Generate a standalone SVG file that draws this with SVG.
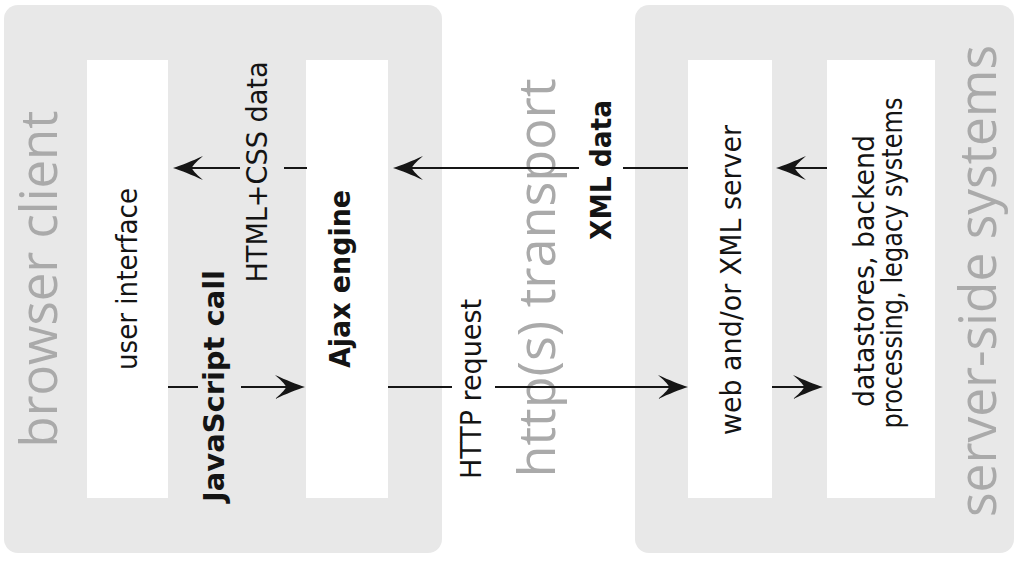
<svg xmlns="http://www.w3.org/2000/svg" width="1017" height="562" viewBox="0 0 1017 562">
<style>
.panel{fill:#e8e8e8}
.box{fill:#ffffff}
.big{font-family:"Open Sans","DejaVu Sans",sans-serif;font-size:51px;font-weight:normal;fill:#aaaaaa;text-anchor:middle}
.lbl{font-family:"DejaVu Sans",sans-serif;font-size:28px;fill:#141414;text-anchor:middle}
.b{font-weight:bold}
.ln{stroke:#161616;stroke-width:2;fill:none}
.arr{marker-end:url(#ah)}
</style>
<defs>
<marker id="ah" markerUnits="userSpaceOnUse" markerWidth="40" markerHeight="30" viewBox="-26 -15 40 30" refX="0" refY="0" orient="auto" overflow="visible">
<path d="M8,0 C0,-2.5 -11,-7 -22,-12 C-14,-5 -11,-1.5 -11,0 C-11,1.5 -14,5 -22,12 C-11,7 0,2.5 8,0 Z" fill="#161616"/>
</marker>
</defs>
<rect width="1017" height="562" fill="#ffffff"/>

<g id="browser-client">
<rect class="panel" x="4" y="5" width="438" height="548" rx="14"/>
<text class="big" transform="translate(57,279) rotate(-90)" textLength="337" lengthAdjust="spacingAndGlyphs">browser client</text>
</g>

<g id="server-side-systems">
<rect class="panel" x="635" y="5" width="379" height="548" rx="14"/>
<text class="big" transform="translate(996,281) rotate(-90)" textLength="472" lengthAdjust="spacingAndGlyphs">server-side systems</text>
</g>

<g id="http-transport">
<text class="big" transform="translate(555,278) rotate(-90)" textLength="399" lengthAdjust="spacingAndGlyphs">http(s) transport</text>
</g>

<g id="user-interface">
<rect class="box" x="87" y="60" width="81" height="438"/>
<text class="lbl" transform="translate(137,279) rotate(-90)" textLength="182" lengthAdjust="spacingAndGlyphs">user interface</text>
</g>

<g id="ajax-engine">
<rect class="box" x="306" y="60" width="82" height="438"/>
<text class="lbl b" transform="translate(350,279) rotate(-90)" textLength="178" lengthAdjust="spacingAndGlyphs">Ajax engine</text>
</g>

<g id="web-server">
<rect class="box" x="688" y="60" width="84" height="438"/>
<text class="lbl" transform="translate(741,280) rotate(-90)" textLength="310" lengthAdjust="spacingAndGlyphs">web and/or XML server</text>
</g>

<g id="datastores">
<rect class="box" x="827" y="60" width="108" height="438"/>
<text class="lbl" transform="translate(874,271) rotate(-90)" textLength="272" lengthAdjust="spacingAndGlyphs">datastores, backend</text>
<text class="lbl" transform="translate(902,263) rotate(-90)" textLength="331" lengthAdjust="spacingAndGlyphs">processing, legacy systems</text>
</g>

<g id="connectors">
<line class="ln" x1="307" y1="168" x2="284" y2="168"/>
<line class="ln arr" x1="240" y1="168" x2="181" y2="168"/>
<text class="lbl" transform="translate(267,172) rotate(-90)" textLength="221" lengthAdjust="spacingAndGlyphs">HTML+CSS data</text>

<line class="ln" x1="688" y1="168" x2="623" y2="168"/>
<line class="ln arr" x1="579" y1="168" x2="401" y2="168"/>
<text class="lbl b" transform="translate(611,170) rotate(-90)" textLength="140" lengthAdjust="spacingAndGlyphs">XML data</text>

<line class="ln arr" x1="827" y1="168" x2="784" y2="168"/>

<line class="ln" x1="168" y1="387" x2="198" y2="387"/>
<line class="ln arr" x1="241" y1="387" x2="297" y2="387"/>
<text class="lbl b" transform="translate(224,386) rotate(-90)" textLength="232" lengthAdjust="spacingAndGlyphs">JavaScript call</text>

<line class="ln" x1="388" y1="387" x2="452" y2="387"/>
<line class="ln arr" x1="495" y1="387" x2="680" y2="387"/>
<text class="lbl" transform="translate(481,389) rotate(-90)" textLength="180" lengthAdjust="spacingAndGlyphs">HTTP request</text>

<line class="ln arr" x1="772" y1="387" x2="815" y2="387"/>
</g>
</svg>
